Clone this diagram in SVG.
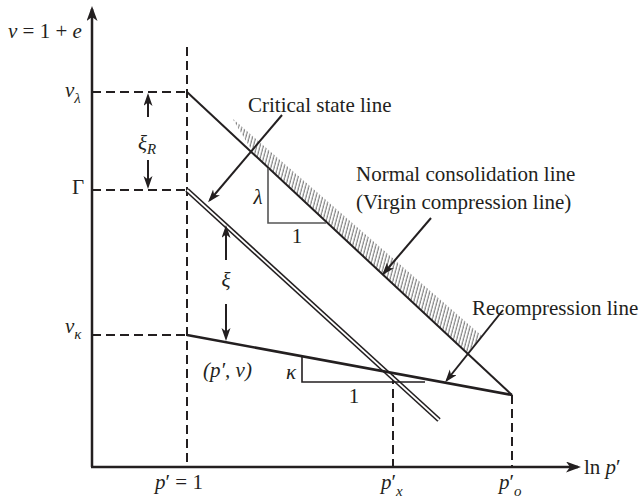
<svg xmlns="http://www.w3.org/2000/svg" width="644" height="498" viewBox="0 0 644 498">
<style>
.t{font-family:"Liberation Serif","Times New Roman",serif;font-size:21px;fill:#231f20}
.i{font-style:italic}
.s{font-size:15px}
.dash{stroke:#231f20;stroke-width:2;stroke-dasharray:9 5;fill:none}
.ln{stroke:#231f20;fill:none}
</style>
<defs>
<marker id="ah" markerUnits="userSpaceOnUse" markerWidth="14" markerHeight="10" refX="10" refY="4.5" orient="auto">
<path d="M0,0 L13,4.5 L0,9 L3.5,4.5 Z" fill="#231f20"/>
</marker>
<marker id="ax" markerUnits="userSpaceOnUse" markerWidth="16" markerHeight="12" refX="12" refY="5.5" orient="auto">
<path d="M0,0 L15,5.5 L0,11 L4,5.5 Z" fill="#231f20"/>
</marker>
<pattern id="hatch" patternUnits="userSpaceOnUse" width="3.2" height="20" patternTransform="rotate(15)">
<line x1="1" y1="0" x2="1" y2="20" stroke="#7a7a7a" stroke-width="1.1"/>
</pattern>
<clipPath id="bandclip"><polygon points="232,118 482,336 467,353 254,154"/></clipPath>
</defs>
<rect width="644" height="498" fill="#fff"/>

<g id="axes">
<line class="ln" x1="92" y1="467" x2="92" y2="9" stroke-width="2.5" marker-end="url(#ax)"/>
<line class="ln" x1="91" y1="467" x2="578" y2="467" stroke-width="2.5" marker-end="url(#ax)"/>
<text class="t" x="8" y="38"><tspan class="i">ν</tspan> = 1 + <tspan class="i">e</tspan></text>
<text class="t" x="584" y="474">ln <tspan class="i">p</tspan>′</text>
</g>

<g id="guides">
<line class="dash" x1="92" y1="92" x2="187" y2="92"/>
<line class="dash" x1="92" y1="190" x2="187" y2="190"/>
<line class="dash" x1="92" y1="335" x2="187" y2="335"/>
<line class="dash" x1="187" y1="47" x2="187" y2="467"/>
<line class="dash" x1="393" y1="375" x2="393" y2="467" stroke-width="1.7"/>
<line class="dash" x1="512" y1="395" x2="512" y2="467" stroke-width="1.7"/>
</g>

<g id="hatch-band">
<rect x="220" y="110" width="270" height="250" fill="url(#hatch)" clip-path="url(#bandclip)"/>
</g>

<g id="ncl">
<line class="ln" x1="187" y1="92" x2="512" y2="395" stroke-width="2"/>
</g>
<g id="csl">
<line x1="187" y1="190" x2="439" y2="420" stroke="#231f20" stroke-width="5"/>
<line x1="187" y1="190" x2="439" y2="420" stroke="#fff" stroke-width="1.8"/>
</g>
<g id="rcl">
<line class="ln" x1="187" y1="335" x2="512" y2="395" stroke-width="2.5"/>
</g>

<g id="lambda-triangle">
<polyline points="268,168 268,223 326,223" fill="none" stroke="#555" stroke-width="1.6"/>
<text class="t i" x="258" y="204" text-anchor="middle">λ</text>
<text class="t" x="297" y="243" text-anchor="middle">1</text>
</g>
<g id="kappa-triangle">
<polyline points="302,356 302,382 425,382" fill="none" stroke="#231f20" stroke-width="1.6"/>
<text class="t i" x="291" y="379" text-anchor="middle">κ</text>
<text class="t" x="354" y="403" text-anchor="middle">1</text>
</g>

<g id="y-labels">
<text class="t i" x="65" y="97">ν<tspan class="s" dy="6">λ</tspan></text>
<text class="t" x="72" y="194">Γ</text>
<text class="t i" x="65" y="333">ν<tspan class="s" dy="6">κ</tspan></text>
</g>
<g id="x-labels">
<text class="t" x="155" y="489"><tspan class="i">p</tspan>′ = 1</text>
<text class="t" x="381" y="489"><tspan class="i">p</tspan>′<tspan class="s i" dy="7">x</tspan></text>
<text class="t" x="499" y="489"><tspan class="i">p</tspan>′<tspan class="s i" dy="7">o</tspan></text>
</g>
<g id="point-label">
<text class="t i" x="203" y="377">(p′, ν)</text>
</g>
<g id="labels">
<text class="t" x="248" y="112">Critical state line</text>
<text class="t" x="356" y="181">Normal consolidation line</text>
<text class="t" x="356" y="209">(Virgin compression line)</text>
<text class="t" x="472" y="315">Recompression line</text>
<text class="t i" x="138" y="150">ξ<tspan class="s" dy="4">R</tspan></text>
<text class="t i" x="226" y="287" text-anchor="middle">ξ</text>
</g>

<g id="connectors">
<line class="ln" x1="148" y1="117" x2="148" y2="96" stroke-width="2" marker-end="url(#ah)"/>
<line class="ln" x1="148" y1="160" x2="148" y2="186" stroke-width="2" marker-end="url(#ah)"/>
<line class="ln" x1="226" y1="260" x2="226" y2="228" stroke-width="2" marker-end="url(#ah)"/>
<line class="ln" x1="226" y1="304" x2="226" y2="338" stroke-width="2" marker-end="url(#ah)"/>
<line class="ln" x1="282" y1="115" x2="210" y2="200" stroke-width="2" marker-end="url(#ah)"/>
<line class="ln" x1="431" y1="218" x2="384" y2="273" stroke-width="2" marker-end="url(#ah)"/>
<line class="ln" x1="503" y1="310" x2="447" y2="380" stroke-width="2" marker-end="url(#ah)"/>
</g>
</svg>
